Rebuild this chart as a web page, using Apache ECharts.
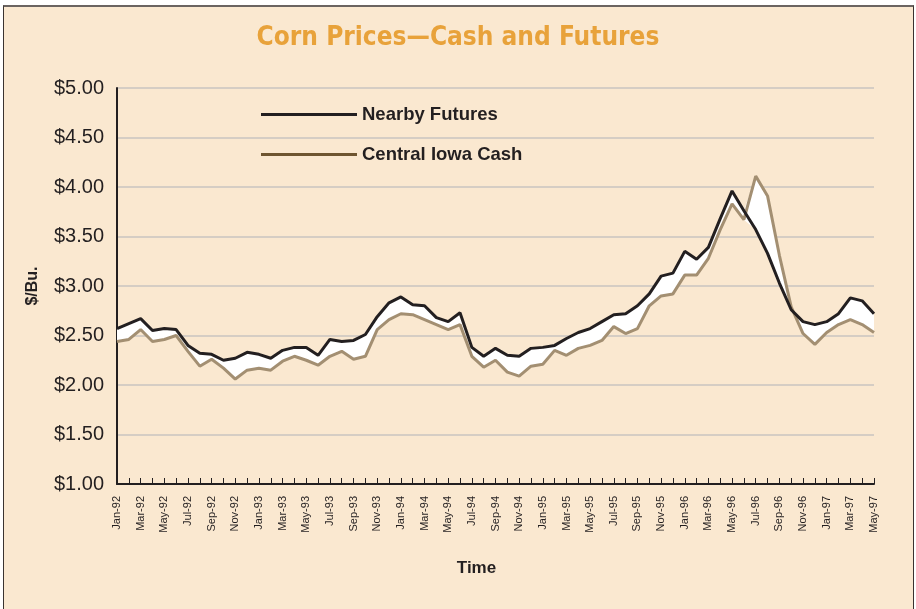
<!DOCTYPE html>
<html>
<head>
<meta charset="utf-8">
<script src="https://cdn.jsdelivr.net/npm/echarts@6/dist/echarts.min.js"></script>
<style>
    body { margin: 0; background: #fff; }
    #frame {
        position: absolute; left: 3px; top: 5px; width: 909px; height: 606px;
        background: #fae8d0; border-top: 2px solid #6b6461;
        border-left: 1px solid #3a3330; border-right: 1px solid #3a3330;
    }
    #main { position: absolute; left: 0; top: 0; width: 916px; height: 609px; }
</style>
</head>
<body>
<div id="frame"></div>
<div id="main"></div>
<script>
// months Jan-92 .. May-97
var months = [
    'Jan-92','Feb-92','Mar-92','Apr-92','May-92','Jun-92','Jul-92','Aug-92','Sep-92','Oct-92','Nov-92','Dec-92',
    'Jan-93','Feb-93','Mar-93','Apr-93','May-93','Jun-93','Jul-93','Aug-93','Sep-93','Oct-93','Nov-93','Dec-93',
    'Jan-94','Feb-94','Mar-94','Apr-94','May-94','Jun-94','Jul-94','Aug-94','Sep-94','Oct-94','Nov-94','Dec-94',
    'Jan-95','Feb-95','Mar-95','Apr-95','May-95','Jun-95','Jul-95','Aug-95','Sep-95','Oct-95','Nov-95','Dec-95',
    'Jan-96','Feb-96','Mar-96','Apr-96','May-96','Jun-96','Jul-96','Aug-96','Sep-96','Oct-96','Nov-96','Dec-96',
    'Jan-97','Feb-97','Mar-97','Apr-97','May-97'
];
// Nearby Futures ($/bu)
var futures = [
    2.57, 2.62, 2.67, 2.55, 2.57, 2.56, 2.40, 2.32, 2.31, 2.25, 2.27, 2.33,
    2.31, 2.27, 2.35, 2.38, 2.38, 2.30, 2.46, 2.44, 2.45, 2.51, 2.69, 2.83,
    2.89, 2.81, 2.80, 2.68, 2.64, 2.73, 2.38, 2.29, 2.37, 2.30, 2.29, 2.37,
    2.38, 2.40, 2.47, 2.53, 2.57, 2.64, 2.71, 2.72, 2.80, 2.92, 3.10, 3.13,
    3.35, 3.27, 3.39, 3.68, 3.96, 3.76, 3.57, 3.33, 3.03, 2.76, 2.64, 2.61,
    2.64, 2.72, 2.88, 2.85, 2.72
];
// Central Iowa Cash ($/bu)
var cash = [
    2.44, 2.46, 2.56, 2.44, 2.46, 2.50, 2.34, 2.19, 2.26, 2.17, 2.06, 2.15,
    2.17, 2.15, 2.24, 2.29, 2.25, 2.20, 2.29, 2.34, 2.26, 2.29, 2.56, 2.66,
    2.72, 2.71, 2.66, 2.61, 2.56, 2.61, 2.29, 2.18, 2.25, 2.13, 2.09, 2.19,
    2.21, 2.35, 2.30, 2.37, 2.40, 2.45, 2.59, 2.52, 2.57, 2.80, 2.90, 2.92,
    3.11, 3.11, 3.28, 3.57, 3.83, 3.67, 4.11, 3.91, 3.31, 2.79, 2.52, 2.41,
    2.53, 2.61, 2.66, 2.61, 2.53
];

// white band between the two lines (lower edge + height, stacked)
var bandLow = [], bandHeight = [];
for (var i = 0; i < futures.length; i++) {
    var lo = Math.min(futures[i], cash[i]);
    bandLow.push(lo);
    bandHeight.push(+(Math.max(futures[i], cash[i]) - lo).toFixed(2));
}

var font = 'Liberation Sans, Arial, sans-serif';
var ink = '#231f20';
var chart = echarts.init(document.getElementById('main'));
var option = {
    animation: false,
    title: {
        text: 'Corn Prices\u2014Cash and Futures',
        left: 'center',
        top: 20,
        textStyle: {
            color: '#e8a23a',
            fontSize: 26,
            fontWeight: 'bold',
            fontFamily: 'Liberation Sans Narrow, DejaVu Sans Condensed, Liberation Sans, sans-serif'
        }
    },
    legend: [{
        left: 256,
        top: 100,
        icon: 'rect',
        itemWidth: 96,
        itemHeight: 3,
        itemGap: 6,
        selectedMode: false,
        textStyle: { color: ink, fontSize: 18.5, fontWeight: 'bold', fontFamily: font },
        data: [{ name: 'Nearby Futures', itemStyle: { color: ink } }]
    }, {
        left: 256,
        top: 140,
        icon: 'rect',
        itemWidth: 96,
        itemHeight: 3,
        selectedMode: false,
        textStyle: { color: ink, fontSize: 18.5, fontWeight: 'bold', fontFamily: font },
        data: [{ name: 'Central Iowa Cash', itemStyle: { color: '#6e5530' } }]
    }],
    grid: {
        left: 117,
        right: 42,
        top: 88,
        bottom: 125
    },
    xAxis: {
        type: 'category',
        boundaryGap: false,
        data: months,
        name: 'Time',
        nameLocation: 'middle',
        nameGap: 76,
        nameTextStyle: {
            color: ink, fontSize: 17, fontWeight: 'bold', fontFamily: font,
            padding: [0, 38, 0, 0]
        },
        axisLine: { lineStyle: { color: ink, width: 2 } },
        axisTick: { inside: true, length: 6, interval: 0, lineStyle: { color: ink, width: 1 } },
        axisLabel: {
            rotate: 90,
            interval: 1,
            margin: 12,
            color: ink,
            fontSize: 11,
            fontFamily: font
        },
        splitLine: { show: false }
    },
    yAxis: {
        type: 'value',
        min: 1,
        max: 5,
        interval: 0.5,
        name: '$/Bu.',
        nameLocation: 'middle',
        nameGap: 76,
        nameRotate: 90,
        nameTextStyle: { color: ink, fontSize: 16, fontWeight: 'bold', fontFamily: font },
        axisLine: { show: true, lineStyle: { color: ink, width: 2 } },
        axisTick: { show: false },
        axisLabel: {
            margin: 13,
            color: ink,
            fontSize: 20,
            fontFamily: font,
            formatter: function (v) { return '$' + v.toFixed(2); }
        },
        splitLine: { lineStyle: { color: '#c9c4c0', width: 1.5 } }
    },
    series: [{
        name: 'bandLow',
        type: 'line',
        stack: 'band',
        data: bandLow,
        symbol: 'none',
        silent: true,
        lineStyle: { opacity: 0 }
    }, {
        name: 'bandHeight',
        type: 'line',
        stack: 'band',
        data: bandHeight,
        symbol: 'none',
        silent: true,
        lineStyle: { opacity: 0 },
        areaStyle: { color: '#ffffff', opacity: 1 }
    }, {
        name: 'Central Iowa Cash',
        type: 'line',
        data: cash,
        symbol: 'none',
        color: '#a38f72',
        lineStyle: { color: '#a38f72', width: 3 }
    }, {
        name: 'Nearby Futures',
        type: 'line',
        data: futures,
        symbol: 'none',
        color: ink,
        lineStyle: { color: ink, width: 3 }
    }]
};
chart.setOption(option);
</script>
</body>
</html>
